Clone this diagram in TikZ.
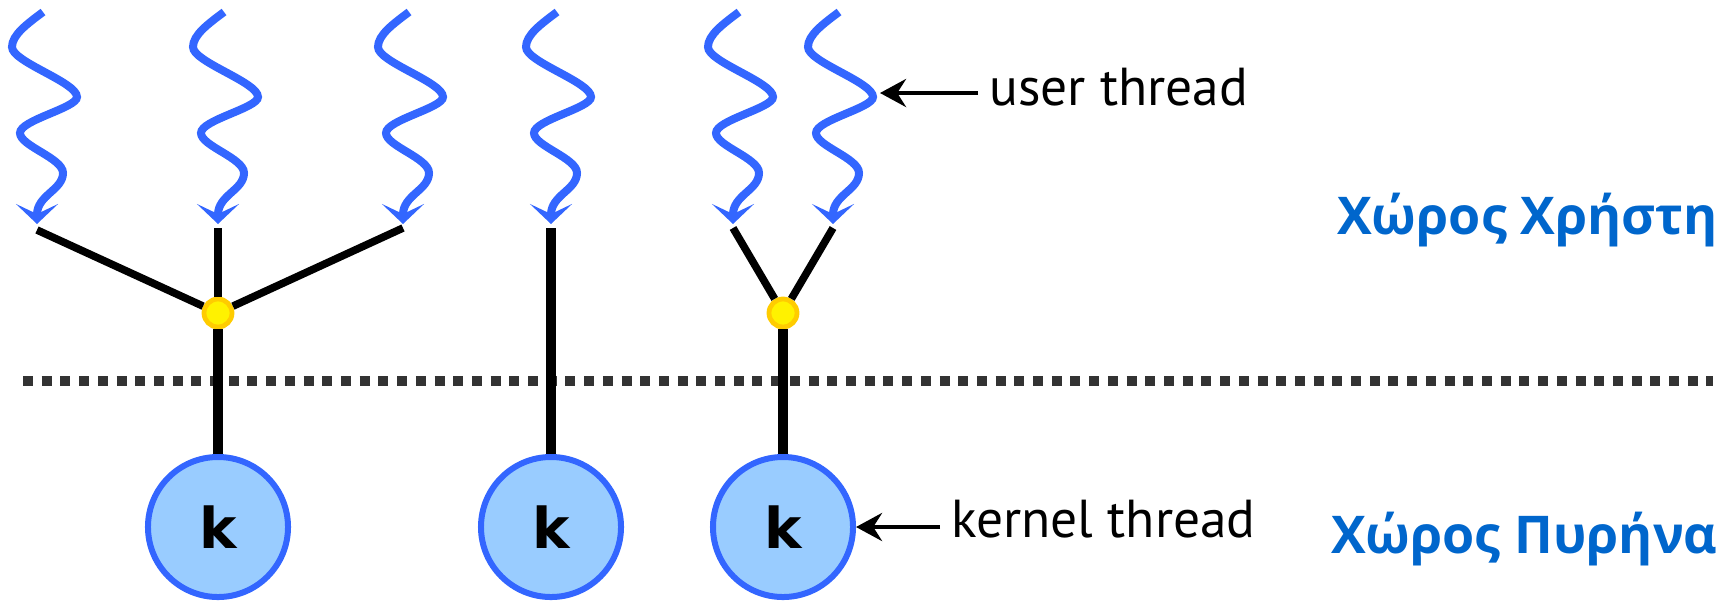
\documentclass[tikz,border=0pt]{standalone}
\usepackage{fontspec}
\usepackage{tikz}
\usetikzlibrary{arrows.meta}
\setmainfont{PT Sans}
\newfontfamily\greekfont{Open Sans}
\newfontfamily\kfont{DejaVu Sans}

\definecolor{threadblue}{HTML}{3366FF}
\definecolor{kfill}{HTML}{99CCFF}
\definecolor{spaceblue}{HTML}{0066CC}
\definecolor{jointring}{HTML}{FFCC00}
\definecolor{sepgray}{HTML}{333333}

\begin{document}
\begin{tikzpicture}[x=0.025cm, y=-0.025cm,
    kthread/.style = {draw=threadblue, fill=kfill, circle, line width=0.15cm, minimum size=3.5cm, inner sep=0pt, font=\kfont\bfseries\fontsize{40}{40}\selectfont},
    joint/.style = {draw=jointring, fill=yellow, circle, line width=0.12cm, minimum size=0.7cm, inner sep=0pt},
    wave/.style = {threadblue, line width=0.2cm, -{Stealth[length=0.5cm, width=1.05cm, inset=0.25cm]}},
    thinline/.style = {line width=0.19cm},
    thickline/.style = {line width=0.27cm},
    pointer/.style = {line width=0.11cm, -{Stealth[length=0.65cm, width=0.7cm, inset=0.22cm]}},
    lbl/.style = {font=\fontsize{38}{38}\selectfont, inner sep=0.275cm},
    space/.style = {text=spaceblue, font=\greekfont\bfseries\fontsize{37}{37}\selectfont, inner sep=0pt}]
    \useasboundingbox (0,0) rectangle (1733,600);

    % user threads
    \foreach \x in {37,218,403,551,733,833}
        \draw[wave, shift={(\x,0)}] (6,12) .. controls (-10,24) and (-25,35) .. (-25,47)
            .. controls (-25,62) and (40,82) .. (40,97)
            .. controls (40,108) and (-17,120) .. (-17,133)
            .. controls (-17,146) and (26,158) .. (26,173)
            .. controls (26,190) and (0,195) .. (0,224);

    \coordinate (e1) at (37,230);
    \coordinate (e2) at (218,228);
    \coordinate (e3) at (403,228);
    \coordinate (e4) at (551,228);
    \coordinate (e5) at (733,228);
    \coordinate (e6) at (833,228);
    \coordinate (w6) at (880,93);

    \node[kthread] (k1) at (218,527) {k};
    \node[kthread] (k2) at (551,527) {k};
    \node[kthread] (k3) at (783,527) {k};

    \draw[sepgray, line width=0.25cm, dash pattern=on 0.25cm off 0.2175cm] (23,381) -- (1713,381);

    \node[joint] (j1) at (218,313) {};
    \node[joint] (j2) at (783,313) {};

    \draw[thinline] (e1) -- (j1);
    \draw[thinline] (e2) -- (j1);
    \draw[thinline] (e3) -- (j1);
    \draw[thickline] (j1) -- (k1);
    \draw[thickline] (e4) -- (k2);
    \draw[thinline] (e5) -- (j2);
    \draw[thinline] (e6) -- (j2);
    \draw[thickline] (j2) -- (k3);

    \node[lbl, anchor=west] (ut) at (978,87) {user thread};
    \node[lbl, anchor=west] (kt) at (940,519) {kernel thread};
    \draw[pointer] (ut.west |- w6) -- (w6);
    \draw[pointer] (kt.west |- k3) -- (k3);

    \node[space, anchor=base east] (us) at (1718,234) {Χώρος Χρήστη};
    \node[space, anchor=base east] (ks) at (1718,553) {Χώρος Πυρήνα};
\end{tikzpicture}
\end{document}
